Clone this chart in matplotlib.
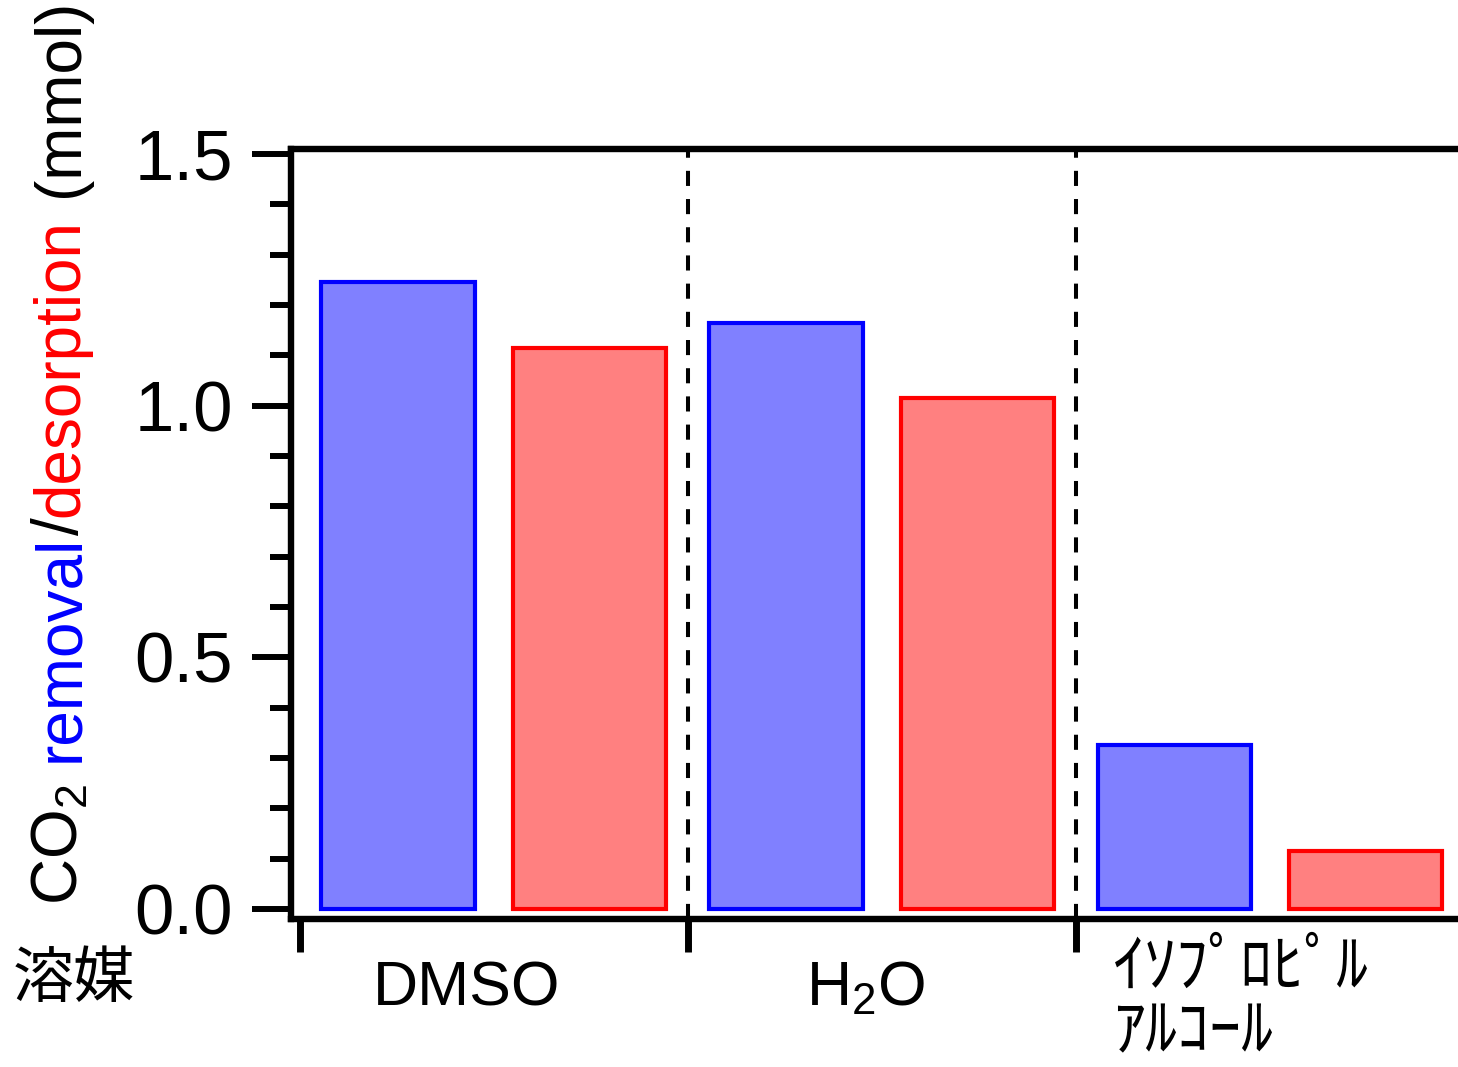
import numpy as np
import matplotlib
matplotlib.use("Agg")
import matplotlib.pyplot as plt
from matplotlib.ticker import MultipleLocator

plt.rcParams['font.family'] = ['Liberation Sans', 'DejaVu Sans']
plt.rcParams['mathtext.fontset'] = 'custom'
plt.rcParams['mathtext.rm'] = 'Liberation Sans'
plt.rcParams['mathtext.it'] = 'Liberation Sans:italic'

# ===== データ =====
solvents = ["DMSO", "H$_2$O", "ｲｿﾌﾟﾛﾋﾟﾙ", "ｱﾙｺｰﾙ"]
removal = [1.245, 1.165, 0.325]
desorption = [1.115, 1.015, 0.115]
yticks = [0.0, 0.5, 1.0, 1.5]
ylabel_parts = [("CO$_2$", "black"), ("removal", "#0000ff"), ("/", "black"),
                ("desorption", "#ff0000"), ("(mmol)", "black")]

W, H = 1458, 1067
fig = plt.figure(figsize=(W / 100, H / 100), dpi=100)
ax = fig.add_axes([291 / W, 1 - 919 / H, 1 - 291 / W, (919 - 149) / H])

x = np.arange(3)
ax.bar(x - 0.247, removal, width=0.395, color="#8080ff", edgecolor="#0000ff", linewidth=3)
ax.bar(x + 0.247, desorption, width=0.395, color="#ff8080", edgecolor="#ff0000", linewidth=3)

for xv in [0.5, 1.5]:
    ax.axvline(xv, color="black", lw=2.9, dashes=(3.75, 3.25))

ax.set_xlim(-0.523, 2.4845)
ax.set_ylim(-0.0199, 1.51)

# ===== 軸 =====
ax.spines["right"].set_visible(False)
for s in ["left", "top", "bottom"]:
    ax.spines[s].set_linewidth(4.6)

ax.set_yticks(yticks)
ax.set_yticklabels([f"{v:.1f}" for v in yticks], fontsize=51)
ax.yaxis.set_minor_locator(MultipleLocator(0.1))
ax.tick_params(axis="y", which="major", length=28, width=4.3, pad=14)
ax.tick_params(axis="y", which="minor", length=15, width=4.3)

ax.set_xticks([-0.5, 0.5, 1.5])
ax.set_xticklabels([])
ax.tick_params(axis="x", which="major", length=24, width=5)

# ===== カテゴリ名 =====
fig.text(467 / W, 1 - 1005 / H, solvents[0], ha="center", va="baseline", fontsize=45)
fig.text(866 / W, 1 - 1005 / H, solvents[1], ha="center", va="baseline", fontsize=45)
fig.text(1113 / W, 1 - 986 / H, solvents[2], ha="left", va="baseline", fontsize=46,
         family=["Noto Sans CJK JP"])
fig.text(1113 / W, 1 - 1050 / H, solvents[3], ha="left", va="baseline", fontsize=46,
         family=["Noto Sans CJK JP"])
fig.text(13 / W, 1 - 997 / H, "溶媒", ha="left", va="baseline", fontsize=44,
         family=["Noto Sans CJK JP"])

# ===== 縦軸ラベル（色分け） =====
fig.canvas.draw()
r = fig.canvas.get_renderer()
gaps = [22, 0, 0, 22, 0]
ypos = H - 905
for (s, c), g in zip(ylabel_parts, gaps):
    t = fig.text(78 / W, ypos / H, s, color=c, rotation=90, rotation_mode="anchor",
                 ha="left", va="baseline", fontsize=46)
    ypos += t.get_window_extent(r).height + g

fig.savefig("out.png", dpi=100)
